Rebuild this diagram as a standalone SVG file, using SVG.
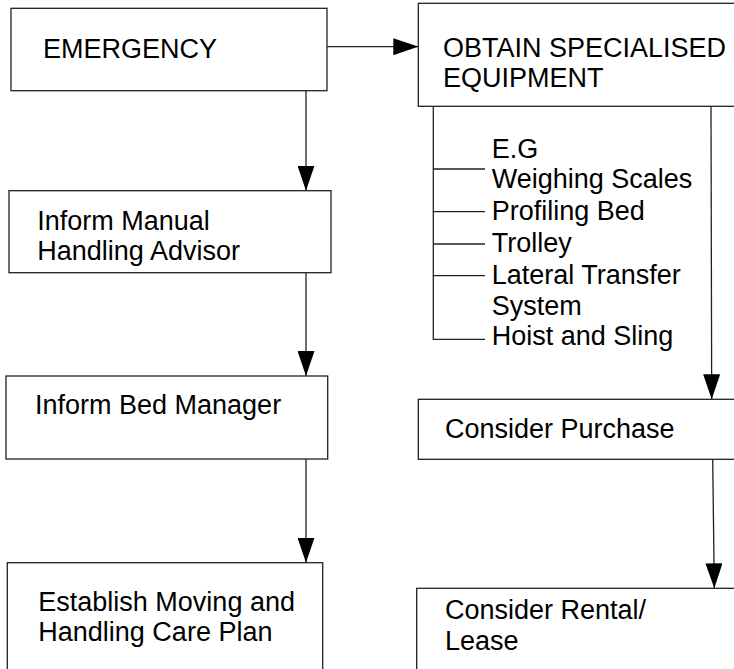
<svg xmlns="http://www.w3.org/2000/svg" width="734" height="669" viewBox="0 0 734 669">
<style>
.box{fill:#fff;stroke:#222;stroke-width:1.3}
.ln{fill:none;stroke:#222;stroke-width:1.3}
text{font-family:"Liberation Sans",Arial,sans-serif;font-size:27px;fill:#000}
</style>
<defs>
<marker id="ah" viewBox="0 0 25 17" refX="25" refY="8.5" markerWidth="25" markerHeight="17" orient="auto" markerUnits="userSpaceOnUse">
<path d="M0,0 L25,8.5 L0,17 z" fill="#000"/>
</marker>
</defs>
<rect width="734" height="669" fill="#fff"/>
<g id="emergency"><rect class="box" x="11" y="8.3" width="316" height="82.4"/><text x="43" y="58.3">EMERGENCY</text></g>
<g id="obtain"><rect class="box" x="418.3" y="3.3" width="330" height="103"/><text x="443" y="57.3">OBTAIN SPECIALISED</text><text x="443" y="87.3">EQUIPMENT</text></g>
<g id="inform-manual"><rect class="box" x="9" y="190.7" width="322" height="82"/><text x="37.3" y="230">Inform Manual</text><text x="37.3" y="259.5">Handling Advisor</text></g>
<g id="inform-bed"><rect class="box" x="6" y="376" width="321.7" height="83"/><text x="35" y="413.5">Inform Bed Manager</text></g>
<g id="establish"><rect class="box" x="7.3" y="562.7" width="315.4" height="120"/><text x="38.3" y="610.7">Establish Moving and</text><text x="38.3" y="640.7">Handling Care Plan</text></g>
<g id="equipment-list"><text x="491.7" y="158.3">E.G</text><text x="491.7" y="187.5">Weighing Scales</text><text x="491.7" y="220">Profiling Bed</text><text x="491.7" y="251.7">Trolley</text><text x="491.7" y="284">Lateral Transfer</text><text x="491.7" y="314.5">System</text><text x="491.7" y="345">Hoist and Sling</text></g>
<g id="purchase"><rect class="box" x="418.3" y="399.3" width="330" height="60"/><text x="445" y="438.3">Consider Purchase</text></g>
<g id="rental"><rect class="box" x="416.7" y="588.3" width="330" height="100"/><text x="445" y="619.3">Consider Rental/</text><text x="445" y="650">Lease</text></g>
<g id="connectors">
<line class="ln" x1="327" y1="46.7" x2="418.3" y2="46.7" marker-end="url(#ah)"/>
<line class="ln" x1="306" y1="90.7" x2="306" y2="190.7" marker-end="url(#ah)"/>
<line class="ln" x1="306" y1="272.7" x2="306" y2="376" marker-end="url(#ah)"/>
<line class="ln" x1="306" y1="459" x2="306" y2="562.7" marker-end="url(#ah)"/>
<line class="ln" x1="711" y1="106.3" x2="711.7" y2="399.3" marker-end="url(#ah)"/>
<line class="ln" x1="712.7" y1="459.3" x2="714.3" y2="588.3" marker-end="url(#ah)"/>
<path class="ln" d="M433.3,106.3 V339.3 H485 M433.3,169 H485 M433.3,211.7 H485 M433.3,244 H485 M433.3,275.7 H485"/>
</g>
</svg>
